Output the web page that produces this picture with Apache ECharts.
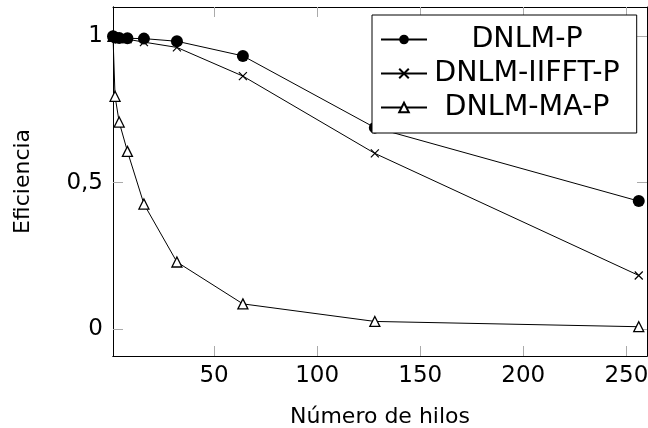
<!DOCTYPE html>
<html>
<head>
<meta charset="utf-8">
<script src="https://cdn.jsdelivr.net/npm/echarts@6/dist/echarts.min.js"></script>
<style>
  html, body { margin: 0; padding: 0; background: #fff; }
  #chart { width: 648px; height: 428px; }
</style>
</head>
<body>
<div id="chart"></div>
<script>
  // hilos (x) y eficiencia de cada variante
  let hilos = [1, 2, 4, 8, 16, 32, 64, 128, 256];
  let dnlmP = [1.0, 0.996, 0.994, 0.993, 0.992, 0.983, 0.933, 0.688, 0.437];
  let dnlmIIFFT = [0.998, 0.995, 0.99, 0.99, 0.98, 0.962, 0.864, 0.60, 0.183];
  let dnlmMA = [1.0, 0.795, 0.707, 0.607, 0.427, 0.229, 0.086, 0.026, 0.008];
  let xTicks = [50, 100, 150, 200, 250];
  let yTicks = [0, 0.5, 1];

  let font = 'DejaVu Sans';
  let xMin = 1, xMax = 260, yMin = -0.092, yMax = 1.1;
  let pairs = (ys) => hilos.map((x, i) => [x, ys[i]]);

  let myChart = echarts.init(document.getElementById('chart'));

  function ticks(values) {
    return {
      show: true,
      inside: true,
      length: 10,
      customValues: values,
      lineStyle: { color: '#aaa', width: 1 }
    };
  }
  function line() {
    return { show: true, onZero: false, lineStyle: { color: '#000', width: 1 } };
  }
  // ejes solo con marcas (segunda rejilla encima de la primera)
  function tickAxisX(pos) {
    return {
      type: 'value', gridIndex: 1, position: pos, min: xMin, max: xMax,
      axisLine: line(), axisTick: ticks(xTicks),
      axisLabel: { show: false }, splitLine: { show: false }
    };
  }
  function tickAxisY(pos) {
    return {
      type: 'value', gridIndex: 1, position: pos, min: yMin, max: yMax,
      axisLine: line(), axisTick: ticks(yTicks),
      axisLabel: { show: false }, splitLine: { show: false }
    };
  }

  let gridBox = { left: 113, right: 1, top: 7, bottom: 72, outerBoundsMode: 'none', containLabel: false };

  let option = {
    animation: false,
    textStyle: { fontFamily: font },
    grid: [Object.assign({}, gridBox), Object.assign({}, gridBox)],
    legend: {
      orient: 'vertical',
      left: 372,
      top: 15,
      padding: [10, 17, 11, 8],
      itemGap: 5,
      itemWidth: 46,
      itemHeight: 12,
      borderColor: '#000',
      borderWidth: 1,
      borderRadius: 0,
      backgroundColor: '#fff',
      formatter: '{t|{name}}',
      textStyle: {
        fontFamily: font,
        color: '#000',
        rich: {
          t: { fontFamily: font, fontSize: 28.5, width: 190, align: 'center', color: '#000' }
        }
      },
      data: ['DNLM-P', 'DNLM-IIFFT-P', 'DNLM-MA-P']
    },
    xAxis: [
      {
        type: 'value',
        gridIndex: 0,
        min: xMin,
        max: xMax,
        name: 'Número de hilos',
        nameLocation: 'middle',
        nameGap: 50,
        nameTextStyle: { fontFamily: font, fontSize: 22, color: '#000' },
        axisLine: line(),
        axisTick: { show: false },
        axisLabel: { customValues: xTicks, fontFamily: font, fontSize: 23, color: '#000', margin: 9 },
        splitLine: { show: false }
      },
      tickAxisX('bottom'),
      tickAxisX('top')
    ],
    yAxis: [
      {
        type: 'value',
        gridIndex: 0,
        min: yMin,
        max: yMax,
        name: 'Eficiencia',
        nameLocation: 'middle',
        nameGap: 79,
        nameTextStyle: { fontFamily: font, fontSize: 22, color: '#000' },
        axisLine: line(),
        axisTick: { show: false },
        axisLabel: {
          customValues: yTicks,
          fontFamily: font, fontSize: 23, color: '#000', margin: 10,
          formatter: (v) => String(v).replace('.', ',')
        },
        splitLine: { show: false }
      },
      tickAxisY('left'),
      tickAxisY('right')
    ],
    series: [
      {
        name: 'DNLM-MA-P',
        type: 'line',
        data: pairs(dnlmMA),
        symbol: 'triangle',
        symbolSize: 10,
        z: 1,
        lineStyle: { color: '#000', width: 1 },
        itemStyle: { color: '#fff', borderColor: '#000', borderWidth: 1.3 }
      },
      {
        name: 'DNLM-IIFFT-P',
        type: 'line',
        data: pairs(dnlmIIFFT),
        symbol: 'path://M0,0L10,10M10,0L0,10',
        symbolSize: 8,
        z: 2,
        lineStyle: { color: '#000', width: 1 },
        itemStyle: { color: '#000', borderColor: '#000', borderWidth: 1.2 }
      },
      {
        name: 'DNLM-P',
        type: 'line',
        data: pairs(dnlmP),
        symbol: 'circle',
        symbolSize: 12,
        z: 3,
        lineStyle: { color: '#000', width: 1 },
        itemStyle: { color: '#000' }
      }
    ]
  };
  myChart.setOption(option);
</script>
</body>
</html>
